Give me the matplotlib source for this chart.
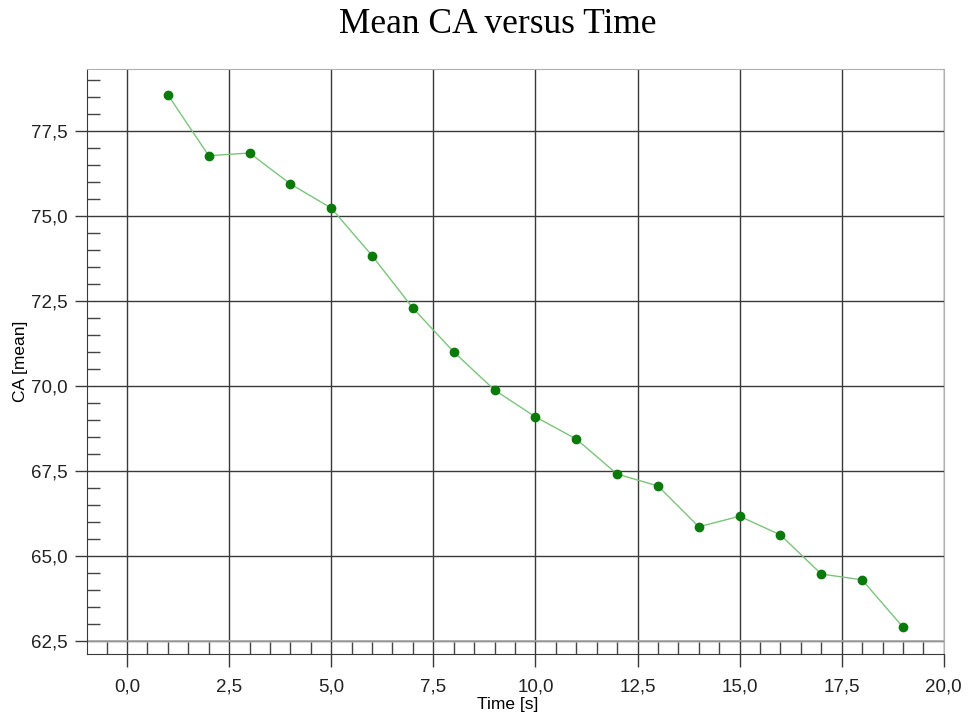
import matplotlib
matplotlib.use("Agg")
import matplotlib.pyplot as plt
from matplotlib.ticker import MultipleLocator, FuncFormatter

time_s = [1, 2, 3, 4, 5, 6, 7, 8, 9, 10, 11, 12, 13, 14, 15, 16, 17, 18, 19]
ca_mean = [78.56, 76.77, 76.85, 75.94, 75.23, 73.83, 72.29, 71.0, 69.88, 69.09,
           68.44, 67.41, 67.06, 65.86, 66.17, 65.62, 64.47, 64.30, 62.91]

fig = plt.figure(figsize=(9.68, 7.17), dpi=100)
ax = fig.add_axes([0.0899, 0.0879, 0.975 - 0.0899, 0.9038 - 0.0879])

ax.plot(time_s, ca_mean, color="#7cc47c", linewidth=1.0, zorder=3)
ax.plot(time_s, ca_mean, linestyle="none", marker="o", markersize=6,
        color="#0a7a0a", zorder=4)

ax.set_xlim(-0.98, 20.0)
ax.set_ylim(62.12, 79.32)

ax.xaxis.set_major_locator(MultipleLocator(2.5))
ax.xaxis.set_minor_locator(MultipleLocator(0.5))
ax.yaxis.set_major_locator(MultipleLocator(2.5))
ax.yaxis.set_minor_locator(MultipleLocator(0.5))
fmt = FuncFormatter(lambda v, p: f"{v:.1f}".replace(".", ","))
ax.xaxis.set_major_formatter(fmt)
ax.yaxis.set_major_formatter(fmt)

ax.grid(True, which="major", color="#3a3a3a", linewidth=1.0, zorder=1)
ax.set_axisbelow(True)
ax.axhline(62.5, color="#a8a8a8", linewidth=1.2, zorder=2)

ax.tick_params(axis="both", which="major", direction="out", length=9,
               width=1.0, color="#3a3a3a", labelsize=13.5, labelcolor="#222222")
ax.tick_params(axis="both", which="minor", direction="in", length=9,
               width=1.0, color="#444444")
ax.tick_params(axis="x", which="major", pad=9)
ax.tick_params(axis="y", which="major", pad=5)

for side in ["left", "bottom"]:
    ax.spines[side].set_color("#3a3a3a")
for side in ["top", "right"]:
    ax.spines[side].set_color("#b0b0b0")

ax.set_xlabel("Time [s]", fontsize=12.5, family="Liberation Sans")
ax.xaxis.set_label_coords((508 - 87) / (944 - 87), -(697 - 654) / (654 - 69))
ax.set_ylabel("CA [mean]", fontsize=12.5, family="Liberation Sans", labelpad=2)
for lab in ax.get_xticklabels() + ax.get_yticklabels():
    lab.set_family("Liberation Sans")

fig.text(0.514, 0.966, "Mean CA versus Time", ha="center", va="center",
         fontsize=25.5, family="Liberation Serif")

fig.savefig("out.png", dpi=100)
